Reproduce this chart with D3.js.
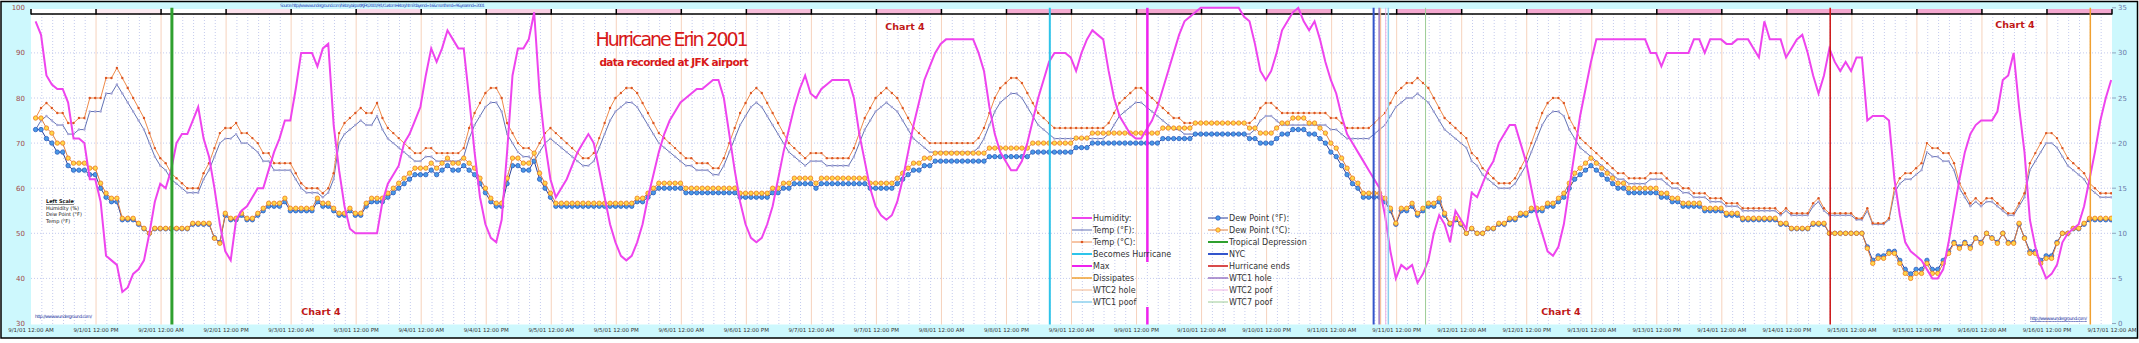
<!DOCTYPE html>
<html>
<head>
<meta charset="utf-8">
<script src="https://cdn.jsdelivr.net/npm/d3@7/dist/d3.min.js"></script>
<style>
  body { margin: 0; background: #fff; }
  text { font-family: "DejaVu Sans", Verdana, sans-serif; }
</style>
</head>
<body>
<div id="chart"></div>
<script>
// hourly readings at JFK, first one 9/1/01 12:51 AM, one per hour
var humidity = [
  97,94,85,83,82,82,79,71,71,70,62,62,57,45,44,43,37,38,41,42,44,50,57,61,
  60,64,70,72,72,75,78,71,67,60,52,46,44,53,55,56,58,60,60,64,68,71,75,75,
  82,90,90,90,87,91,92,74,64,56,51,50,50,50,50,50,57,61,63,65,70,72,75,78,
  85,91,88,91,95,93,91,91,80,68,58,52,49,48,53,68,85,91,91,93,99,81,70,62,
  58,60,62,65,68,70,72,70,64,58,52,48,45,44,45,48,52,58,63,68,72,75,77,79,
  80,81,82,82,83,84,84,80,72,64,57,52,49,48,49,52,56,62,68,73,78,82,85,81,
  80,82,83,84,84,84,84,80,72,66,60,56,54,53,54,57,62,68,74,79,84,87,90,92,
  93,93,93,93,93,93,90,86,78,72,68,66,64,64,66,70,75,80,84,88,90,90,90,89,
  86,90,93,95,94,93,86,80,76,74,72,71,71,73,75,78,82,86,90,94,97,98,99,100,
  100,100,100,100,100,100,100,98,97,92,86,84,86,90,95,97,99,100,97,95,97,93,88,84,
  81,76,72,70,68,66,64,62,60,54,46,40,43,42,43,39,41,44,50,54,52,48,55,53,
  51,59,58,61,64,66,70,72,74,74,70,66,60,54,50,46,45,47,52,60,68,76,82,88,
  93,93,93,93,93,93,93,93,93,93,90,90,87,90,90,90,90,90,93,93,90,93,93,93,
  92,92,93,93,93,91,89,97,93,93,93,89,91,93,94,90,85,81,85,91,88,86,88,86,
  89,89,75,76,76,76,75,62,54,48,46,45,44,42,40,40,42,48,55,62,68,72,74,75,
  75,75,77,84,85,90,78,68,53,47,43,40,41,43,48,50,51,52,56,62,68,75,80,84
];
var tempF = [
  73,75,76,75,74,74,72,72,73,73,77,77,77,81,81,83,81,79,77,75,73,70,67,65,
  64,62,61,60,59,59,59,62,64,67,70,71,71,72,70,70,69,68,66,66,64,64,64,64,
  62,60,59,59,59,58,59,62,70,72,73,74,75,74,74,76,73,71,70,69,68,67,66,66,
  67,67,66,66,66,66,66,67,71,74,76,78,79,79,77,72,70,68,67,67,66,68,70,71,
  70,69,68,67,66,65,65,66,69,72,75,77,78,79,79,78,76,74,72,70,69,68,67,66,
  65,65,64,64,64,63,63,65,68,71,74,76,78,79,78,76,74,72,70,68,67,66,65,66,
  66,66,65,65,65,65,65,67,70,73,75,77,78,79,78,77,75,73,71,70,69,68,68,68,
  68,68,68,68,68,68,69,71,74,77,79,80,81,81,80,78,76,74,73,72,71,71,71,71,
  71,71,71,71,71,71,72,74,76,77,78,79,79,78,77,76,75,74,73,73,72,72,72,72,
  72,72,72,72,72,72,72,72,72,73,75,76,76,75,74,74,74,74,74,74,74,74,74,73,
  73,72,71,71,71,71,71,72,73,74,76,78,79,80,80,81,80,79,77,75,73,72,71,70,
  69,66,65,63,62,61,60,60,60,61,63,65,68,71,74,76,77,77,76,73,71,69,68,67,
  66,65,64,63,62,62,61,61,61,61,62,62,62,61,60,60,59,59,58,58,58,57,57,57,
  56,56,56,55,55,55,55,55,55,55,54,55,54,54,54,54,56,57,55,54,54,54,54,54,
  53,53,55,52,52,52,53,59,61,62,62,63,64,68,67,67,66,66,64,60,58,56,57,56,
  57,57,56,55,54,54,56,58,64,66,68,70,70,69,67,65,64,63,62,60,59,58,58,58
];
var dewF = [
  73,73,71,70,68,68,65,64,64,64,63,63,60,58,57,57,53,53,53,52,51,50,51,51,
  51,51,51,51,51,52,52,52,52,49,48,54,53,53,54,53,53,54,55,56,56,56,57,55,
  55,55,55,55,57,56,56,55,54,54,55,54,54,56,57,57,57,58,59,60,61,62,63,63,
  63,64,63,64,65,64,64,65,64,63,61,59,57,56,56,61,65,65,64,64,66,62,60,58,
  56,56,56,56,56,56,56,56,56,56,56,56,56,56,56,57,57,58,59,60,60,60,60,60,
  59,59,59,59,59,59,59,59,59,59,58,58,58,58,58,58,59,59,60,60,61,61,61,61,
  60,61,61,61,61,61,61,61,61,61,60,60,60,60,60,61,62,63,64,64,65,65,66,66,
  66,66,66,66,66,66,66,66,67,67,67,67,67,67,67,67,68,68,68,68,68,68,68,68,
  69,69,69,70,70,70,70,70,70,70,70,70,70,70,70,70,71,71,71,71,71,71,72,72,
  72,72,72,72,72,72,72,72,71,71,70,70,70,71,72,72,73,73,73,72,72,71,70,68,
  67,65,63,61,60,58,58,58,58,57,55,52,55,55,56,54,55,56,56,57,54,52,53,52,
  50,51,50,50,51,51,52,52,53,53,54,54,55,55,55,56,56,57,58,60,62,63,64,65,
  64,63,62,61,60,60,59,59,59,59,59,59,58,58,57,57,56,56,56,56,55,55,55,55,
  54,54,54,53,53,53,53,53,53,53,52,52,51,51,51,51,52,52,52,50,50,50,50,50,
  50,50,47,44,45,45,46,46,44,42,41,42,42,44,42,42,44,46,48,47,48,47,49,48,
  50,49,48,50,48,48,52,49,46,46,44,45,45,48,50,50,51,51,52,53,53,53,53,53
];

// storm and WTC events
var eventNames = ["Tropical Depression", "Becomes Hurricane", "Max", "NYC", "WTC1 hole", "WTC2 hole",
                  "WTC2 poof", "WTC1 poof", "WTC7 poof", "Hurricane ends", "Dissipates"];
var eventTimes = ["2001-09-02 02:00", "2001-09-08 20:00", "2001-09-09 14:00", "2001-09-11 07:45", "2001-09-11 08:46",
                  "2001-09-11 09:03", "2001-09-11 09:59", "2001-09-11 10:28", "2001-09-11 17:20", "2001-09-14 20:00",
                  "2001-09-16 20:00"];

var leftTicks = [30, 40, 50, 60, 70, 80, 90, 100];
var rightTicks = [0, 5, 10, 15, 20, 25, 30, 35];

var legendCol1 = ["Humidity:", "Temp (°F):", "Temp (°C):", "Becomes Hurricane", "Max", "Dissipates", "WTC2 hole", "WTC1 poof"];
var legendCol2 = ["Dew Point (°F):", "Dew Point (°C):", "Tropical Depression", "NYC", "Hurricane ends", "WTC1 hole", "WTC2 poof", "WTC7 poof"];

var eventStyle = {
  "Tropical Depression": {color: "#2fa02f", w: 3},
  "Becomes Hurricane": {color: "#2ec4ea", w: 2},
  "Max": {color: "#ee22ee", w: 2.5},
  "NYC": {color: "#3355cc", w: 2},
  "WTC1 hole": {color: "#9977c4", w: 1.5},
  "WTC2 hole": {color: "#f2b48c", w: 1},
  "WTC2 poof": {color: "#eeb0e4", w: 1},
  "WTC1 poof": {color: "#8cd0ee", w: 1.5},
  "WTC7 poof": {color: "#9ccc96", w: 1},
  "Hurricane ends": {color: "#cc1111", w: 1.5},
  "Dissipates": {color: "#f0a030", w: 1.5}
};
var seriesStyle = {
  hum: {color: "#ee44ee"},
  tempF: {color: "#6272b4", dot: "#a8a8d8"},
  tempC: {color: "#ee8a4a", dot: "#dd5522"},
  dewF: {color: "#2a3f9a", dot: "#4a9ae6", dotStroke: "#2a5cc0"},
  dewC: {color: "#e08040", dot: "#ffd84a", dotStroke: "#ee7a20"}
};

var width = 2139, height = 343;
var plotL = 31, plotR = 2112, plotTop = 7.8, plotBot = 323.5;

var parseTime = d3.timeParse("%Y-%m-%d %H:%M");
var firstObs = new Date(2001, 8, 1, 0, 51);
var times = humidity.map(function(d, i) { return d3.timeHour.offset(firstObs, i); });
var tempC = tempF.map(function(f) { return (f - 32) / 1.8; });
var dewC = dewF.map(function(f) { return (f - 32) / 1.8; });

var x = d3.scaleTime()
    .domain([new Date(2001, 8, 1), new Date(2001, 8, 17)])
    .range([plotL, plotR]);
var yL = d3.scaleLinear().domain([30, 100]).range([plotBot, plotTop]);
var yR = d3.scaleLinear().domain([0, 35]).range([plotBot, plotTop]);

var svg = d3.select("#chart").append("svg")
    .attr("width", width)
    .attr("height", height);

// frame
svg.append("rect")
    .attr("x", 1).attr("y", 1.5)
    .attr("width", width - 2.5).attr("height", 336.5)
    .attr("fill", "#cdf8fd")
    .attr("stroke", "#000").attr("stroke-width", 1.5);

// plot background
svg.append("rect")
    .attr("x", plotL).attr("y", 14)
    .attr("width", plotR - plotL).attr("height", plotBot + 1 - 14)
    .attr("fill", "#fff");

// top half-day band
var halfDays = d3.timeHour.every(12).range(x.domain()[0], x.domain()[1]);
var pinkScale = d3.scaleLinear().domain([0, 16]).range(["#fdeef3", "#f4a8cf"]).clamp(true);
svg.selectAll(".band")
    .data(halfDays)
    .enter().append("rect")
    .attr("class", "band")
    .attr("x", function(d) { return x(d); })
    .attr("y", 9)
    .attr("width", function(d) { return x(d3.timeHour.offset(d, 12)) - x(d); })
    .attr("height", 5)
    .attr("fill", function(d, i) { return i % 2 ? pinkScale(i) : "#fff"; });

// grid: dotted every 2 hours, peach every 12 hours
var twoHours = d3.timeHour.every(2).range(x.domain()[0], x.domain()[1])
    .filter(function(d) { return d.getHours() % 12 != 0; });
svg.selectAll(".vgrid")
    .data(twoHours)
    .enter().append("line")
    .attr("class", "vgrid")
    .attr("x1", function(d) { return x(d); }).attr("x2", function(d) { return x(d); })
    .attr("y1", 14).attr("y2", plotBot + 1)
    .attr("stroke", "#c4cbee").attr("stroke-width", 1)
    .attr("stroke-dasharray", "1,2");

svg.selectAll(".hgrid")
    .data(leftTicks.slice(1, -1))
    .enter().append("line")
    .attr("class", "hgrid")
    .attr("x1", plotL).attr("x2", plotR)
    .attr("y1", function(d) { return yL(d); }).attr("y2", function(d) { return yL(d); })
    .attr("stroke", "#c4cbee").attr("stroke-width", 1)
    .attr("stroke-dasharray", "1,2");

svg.selectAll(".halfgrid")
    .data(halfDays.slice(1))
    .enter().append("line")
    .attr("class", "halfgrid")
    .attr("x1", function(d) { return x(d); }).attr("x2", function(d) { return x(d); })
    .attr("y1", 14).attr("y2", plotBot + 1)
    .attr("stroke", "#f6d2bc").attr("stroke-width", 1);

// top time bar
svg.append("line")
    .attr("x1", plotL).attr("x2", plotR)
    .attr("y1", 14).attr("y2", 14)
    .attr("stroke", "#000").attr("stroke-width", 1.5);
svg.selectAll(".barTick")
    .data(halfDays.concat([x.domain()[1]]))
    .enter().append("line")
    .attr("class", "barTick")
    .attr("x1", function(d) { return x(d); }).attr("x2", function(d) { return x(d); })
    .attr("y1", 9).attr("y2", 14.5)
    .attr("stroke", "#000").attr("stroke-width", 1.5);

// series
svg.append("clipPath").attr("id", "plotclip")
    .append("rect").attr("x", plotL).attr("y", 0).attr("width", plotR - plotL).attr("height", plotBot + 1);
var g = svg.append("g").attr("clip-path", "url(#plotclip)");

function drawSeries(values, yScale, st, r, width) {
  var line = d3.line()
      .x(function(d, i) { return x(times[i]); })
      .y(function(d) { return yScale(d); });
  g.append("path")
      .datum(values)
      .attr("d", line)
      .attr("fill", "none")
      .attr("stroke", st.color)
      .attr("stroke-width", width);
  if (r > 0) {
    g.append("g").selectAll("circle")
        .data(values)
        .enter().append("circle")
        .attr("cx", function(d, i) { return x(times[i]); })
        .attr("cy", function(d) { return yScale(d); })
        .attr("r", r)
        .attr("fill", st.dot)
        .attr("stroke", st.dotStroke || "none")
        .attr("stroke-width", 0.8);
  }
}

drawSeries(tempF, yL, seriesStyle.tempF, 1.2, 1);
drawSeries(tempC, yR, seriesStyle.tempC, 1.2, 1);
drawSeries(dewF, yL, seriesStyle.dewF, 2.2, 1);
drawSeries(dewC, yR, seriesStyle.dewC, 2.2, 1);
drawSeries(humidity, yL, seriesStyle.hum, 0, 2);

// event lines (the Max line is hidden behind the legend block)
var events = eventNames.map(function(n, i) { return {name: n, time: parseTime(eventTimes[i])}; });
var segs = [];
events.forEach(function(d) {
  if (d.name == "Max") {
    segs.push({ev: d, y1: plotTop, y2: 262});
    segs.push({ev: d, y1: 307, y2: plotBot + 1});
  } else {
    segs.push({ev: d, y1: plotTop, y2: plotBot + 1});
  }
});
svg.selectAll(".event")
    .data(segs)
    .enter().append("line")
    .attr("class", "event")
    .attr("x1", function(d) { return x(d.ev.time); }).attr("x2", function(d) { return x(d.ev.time); })
    .attr("y1", function(d) { return d.y1; }).attr("y2", function(d) { return d.y2; })
    .attr("stroke", function(d) { return eventStyle[d.ev.name].color; })
    .attr("stroke-width", function(d) { return eventStyle[d.ev.name].w; });

// left axis labels
svg.selectAll(".lLab")
    .data(leftTicks)
    .enter().append("text")
    .attr("class", "lLab")
    .attr("x", 25).attr("y", function(d) { return yL(d) + 2.5; })
    .attr("text-anchor", "end")
    .attr("font-size", 7)
    .attr("fill", "#a04a4a")
    .text(function(d) { return d; });

// right axis
svg.selectAll(".rTick")
    .data(rightTicks)
    .enter().append("line")
    .attr("class", "rTick")
    .attr("x1", plotR).attr("x2", plotR + 4)
    .attr("y1", function(d) { return yR(d); }).attr("y2", function(d) { return yR(d); })
    .attr("stroke", "#8090b0").attr("stroke-width", 0.8);
svg.selectAll(".rLab")
    .data(rightTicks)
    .enter().append("text")
    .attr("class", "rLab")
    .attr("x", plotR + 6).attr("y", function(d) { return yR(d) + 2.5; })
    .attr("font-size", 7)
    .attr("fill", "#6a78a8")
    .text(function(d) { return d; });

// bottom date labels
var fmt = d3.timeFormat("%-m/%-d/%y %-I:%M %p");
svg.selectAll(".xLab")
    .data(halfDays.concat([x.domain()[1]]))
    .enter().append("text")
    .attr("class", "xLab")
    .attr("x", function(d) { return x(d); })
    .attr("y", 332)
    .attr("text-anchor", "middle")
    .attr("font-size", 5.5)
    .attr("fill", "#333")
    .text(function(d) { return fmt(d); });

// titles and notes
svg.append("text")
    .attr("x", 672).attr("y", 46)
    .attr("text-anchor", "middle")
    .attr("font-family", "Liberation Sans, Arial, sans-serif")
    .attr("font-size", 19)
    .attr("fill", "#d81818")
    .attr("textLength", 153)
    .text("Hurricane Erin 2001");
svg.append("text")
    .attr("x", 674).attr("y", 66)
    .attr("text-anchor", "middle")
    .attr("font-family", "Liberation Sans, Arial, sans-serif")
    .attr("font-size", 10.5)
    .attr("font-weight", "bold")
    .attr("fill", "#d81818")
    .attr("textLength", 149)
    .text("data recorded at JFK airport");

var chartLabels = [[321, 315], [905, 30], [1561, 315], [2015, 28]];
svg.selectAll(".chart4")
    .data(chartLabels)
    .enter().append("text")
    .attr("class", "chart4")
    .attr("x", function(d) { return d[0]; }).attr("y", function(d) { return d[1]; })
    .attr("text-anchor", "middle")
    .attr("font-size", 9.5)
    .attr("font-weight", "bold")
    .attr("fill", "#c01818")
    .text("Chart 4");

svg.append("text")
    .attr("x", 280).attr("y", 7)
    .attr("font-size", 4.5)
    .attr("fill", "#3050c0")
    .attr("textLength", 205)
    .text("Source: http://www.wunderground.com/history/airport/KJFK/2001/9/1/CustomHistory.html?dayend=16&monthend=9&yearend=2001");

svg.append("text")
    .attr("x", 35).attr("y", 318)
    .attr("font-size", 4.5)
    .attr("fill", "#2030a0")
    .attr("textLength", 57)
    .text("http://www.wunderground.com/");
svg.append("text")
    .attr("x", 2030).attr("y", 320)
    .attr("font-size", 4.5)
    .attr("fill", "#2030a0")
    .attr("text-decoration", "underline")
    .attr("textLength", 57)
    .text("http://www.wunderground.com/");

var scaleNote = ["Left Scale", "Humidity (%)", "Dew Point (°F)", "Temp (°F)"];
svg.selectAll(".note")
    .data(scaleNote)
    .enter().append("text")
    .attr("class", "note")
    .attr("x", 46).attr("y", function(d, i) { return 203 + i * 6.5; })
    .attr("font-size", 5)
    .attr("fill", "#111")
    .attr("text-decoration", function(d, i) { return i == 0 ? "underline" : null; })
    .attr("font-weight", function(d, i) { return i == 0 ? "bold" : null; })
    .text(function(d) { return d; });

// legend
var legendKeys1 = ["hum", "tempF", "tempC", "Becomes Hurricane", "Max", "Dissipates", "WTC2 hole", "WTC1 poof"];
var legendKeys2 = ["dewF", "dewC", "Tropical Depression", "NYC", "Hurricane ends", "WTC1 hole", "WTC2 poof", "WTC7 poof"];

function legendColumn(labels, keys, lx) {
  labels.forEach(function(lab, i) {
    var ly = 218 + i * 12;
    var k = keys[i];
    var st = seriesStyle[k] || {color: eventStyle[k].color};
    var w = seriesStyle[k] ? (k == "hum" ? 2 : 1) : eventStyle[k].w;
    svg.append("line")
        .attr("x1", lx).attr("x2", lx + 20)
        .attr("y1", ly).attr("y2", ly)
        .attr("stroke", st.color).attr("stroke-width", Math.min(w, 2));
    if (st.dot) {
      svg.append("circle")
          .attr("cx", lx + 10).attr("cy", ly)
          .attr("r", k.indexOf("dew") == 0 ? 2.2 : 1.3)
          .attr("fill", st.dot)
          .attr("stroke", st.dotStroke || "none").attr("stroke-width", 0.8);
    }
    svg.append("text")
        .attr("x", lx + 21).attr("y", ly + 3)
        .attr("font-size", 8)
        .attr("fill", "#333")
        .text(lab);
  });
}
legendColumn(legendCol1, legendKeys1, 1072);
legendColumn(legendCol2, legendKeys2, 1208);
</script>
</body>
</html>
